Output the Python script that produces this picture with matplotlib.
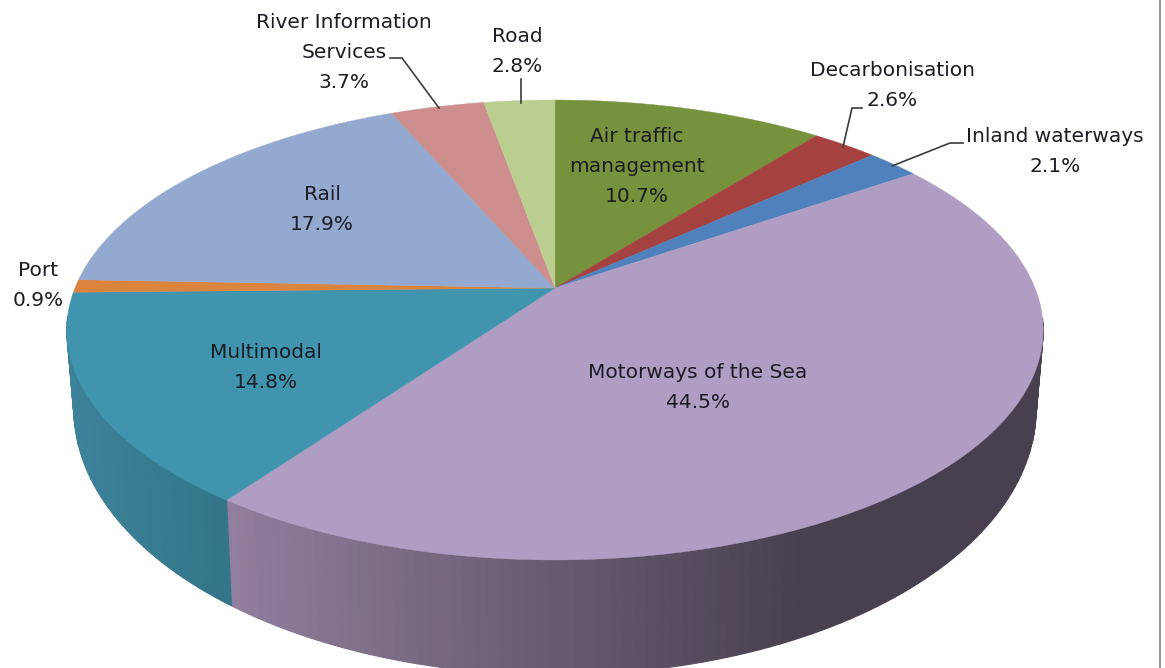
import numpy as np
import matplotlib
matplotlib.use("Agg")
import matplotlib.pyplot as plt

names = ['Air traffic\nmanagement', 'Decarbonisation', 'Inland waterways', 'Motorways of the Sea',
         'Multimodal', 'Port', 'Rail', 'River Information\nServices', 'Road']
shares = [10.7, 2.6, 2.1, 44.5, 14.8, 0.9, 17.9, 3.7, 2.8]
colors = ['#76923C', '#A5423F', '#4F81BD', '#B09DC3', '#4094AE', '#DB843D', '#93A9CF', '#CD8E8D', '#BACE8F']
wall_left = {3: '#907E9C', 4: '#3C8298'}
wall_right = {3: '#48404E', 4: '#337488'}
wall_range = {3: (233, 800), 4: (75, 233)}
label_x = [637, 892, 1055, 698, 266, 38, 322, 344, 517]
label_y = [137, 71, 136, 373, 353, 270, 195, 22, 37]

# leader lines, in image pixels
leaders = [
    ([390, 402, 439], [58, 58, 108]),
    ([521, 521], [79, 103]),
    ([862, 852, 843], [108, 108, 147]),
    ([963, 950, 892], [143, 143, 166]),
]

CX = 555
K = 0.1826
TOP = (480.0, 222.3, 288.0)     # width, height, centre y of the top disc
BOTTOM = (473.0, 257.0, 360.5)  # same for the bottom disc
LINE_H = 30


def project(turn, disc):
    # turn 0 is straight up, going clockwise, with a bit of perspective
    a = 2 * np.pi * np.asarray(turn)
    x, y = np.sin(a), np.cos(a)
    w = 1 + K * y
    return CX + disc[0] * x / w, disc[2] - disc[1] * y / w


fig = plt.figure(figsize=(11.65, 6.68), dpi=100)
ax = fig.add_axes([0, 0, 1, 1])
ax.set_xlim(0, 1165)
ax.set_ylim(668, 0)
ax.axis('off')

edges = np.concatenate([[0], np.cumsum(shares)]) / 100

# side wall first, only the two front slices show; small bands so the shading steps
for i in wall_left:
    steps = int(shares[i] * 3)
    ts = np.linspace(edges[i], edges[i + 1], steps + 1)
    ts = ts[np.cos(2 * np.pi * ts) < -0.12]
    x0, y0 = project(ts, TOP)
    x1, y1 = project(ts, BOTTOM)
    xs = (x0 + x1) / 2
    c0 = np.array(matplotlib.colors.to_rgb(wall_left[i]))
    c1 = np.array(matplotlib.colors.to_rgb(wall_right[i]))
    lo, hi = wall_range[i]
    for j in range(len(ts) - 1):
        f = np.clip(((xs[j] + xs[j + 1]) / 2 - lo) / (hi - lo), 0, 1)
        c = c0 + (c1 - c0) * f
        ax.fill([x0[j], x0[j + 1], x1[j + 1], x1[j]], [y0[j], y0[j + 1], y1[j + 1], y1[j]],
                color=c, lw=0.8, zorder=2 + i * 0.1)

# top face
for i in range(len(shares)):
    ts = np.linspace(edges[i], edges[i + 1], 80)
    x, y = project(ts, TOP)
    ax.fill(np.r_[CX, x], np.r_[TOP[2], y], color=colors[i], lw=0.3, zorder=3)

for lx, ly in leaders:
    ax.plot(lx, ly, color='#3c3c3c', lw=1.2, zorder=4, solid_joinstyle='miter')

for i in range(len(shares)):
    lines = names[i].split('\n') + [f'{shares[i]}%']
    for j, line in enumerate(lines):
        ax.text(label_x[i], label_y[i] + j * LINE_H, line, ha='center', va='center',
                fontsize=14.5, color='#1c1c24', zorder=5, family='DejaVu Sans')

# window edge on the right
ax.plot([1160, 1160], [0, 668], color='#9a9a9a', lw=1.5, zorder=1)

fig.savefig('out.png', dpi=100)
